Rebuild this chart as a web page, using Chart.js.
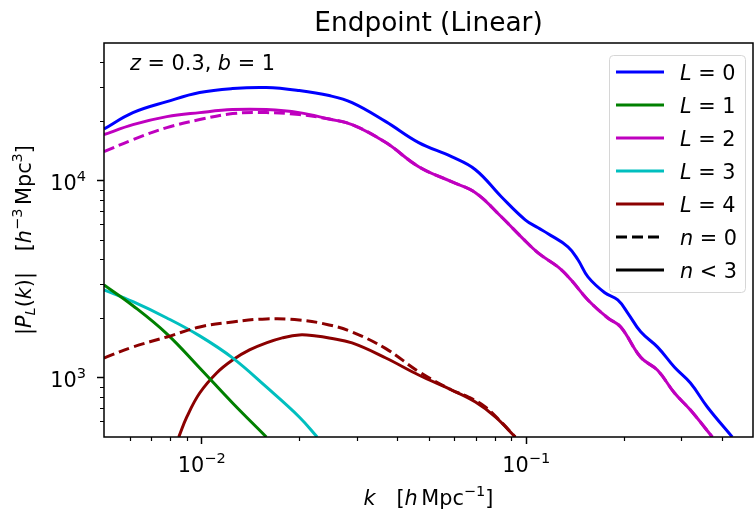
<!DOCTYPE html>
<html>
<head>
<meta charset="utf-8">
<script src="https://cdn.jsdelivr.net/npm/chart.js@4.4.1/dist/chart.umd.min.js"></script>
<style>
  body { margin: 0; background: #fff; }
  canvas { display: block; }
</style>
</head>
<body>
<canvas id="chart" width="755" height="512"></canvas>
<script>
// Values (k in h/Mpc, |P_L| in (Mpc/h)^3)
const kL0 = [0.005, 0.00614, 0.00781, 0.00986, 0.01245, 0.01582, 0.01998, 0.0247, 0.02906, 0.03694,
             0.04664, 0.05888, 0.06977, 0.08382, 0.0993, 0.1088, 0.1168, 0.1345, 0.1444, 0.155,
             0.1747, 0.1915, 0.2056, 0.2254, 0.2541, 0.2865, 0.3208, 0.3616, 0.4315];
const pL0 = [18300, 22160, 25210, 28020, 29360, 29710, 28680, 27050, 24920, 19950,
             15610, 13240, 11370, 8290, 6330, 5770, 5380, 4620, 3970, 3250,
             2700, 2480, 2130, 1710, 1430, 1130, 940, 710, 500];

const kL1 = [0.005, 0.00614, 0.00781, 0.00986, 0.01245, 0.01582];
const pL1 = [2960, 2320, 1670, 1120, 744, 500];

const kL2 = [0.005, 0.00614, 0.00781, 0.00986, 0.01245, 0.01582, 0.01998, 0.0247, 0.02906, 0.03694,
             0.04664, 0.05888, 0.06977, 0.08382, 0.0965, 0.1088, 0.1253, 0.1374, 0.155, 0.1785,
             0.1956, 0.2254, 0.2541, 0.2865, 0.3208, 0.3746];
const pL2 = [17130, 19260, 21150, 22160, 22960, 22960, 22160, 20550, 19260, 15610,
             11780, 9880, 8690, 6560, 5190, 4300, 3650, 3140, 2480, 2010,
             1810, 1270, 1090, 836, 685, 500];
const pL2n0 = [14040, 16160, 18600, 20430, 21910, 22160, 21650, 20550, 19260, 15610,
               11780, 9880, 8690, 6560, 5190, 4300, 3650, 3140, 2480, 2010,
               1810, 1270, 1090, 836, 685, 500];

const kL3 = [0.005, 0.00614, 0.00781, 0.00986, 0.01245, 0.01582, 0.01998, 0.02269];
const pL3 = [2790, 2430, 2010, 1630, 1260, 897, 632, 500];

const kL4 = [0.0085, 0.009, 0.00986, 0.01112, 0.01245, 0.01404, 0.01582, 0.01772, 0.01998, 0.02253,
             0.0247, 0.02906, 0.03694, 0.04664, 0.05888, 0.06977, 0.08034, 0.09253];
const pL4 = [500, 632, 836, 1057, 1230, 1383, 1501, 1592, 1649, 1629,
             1592, 1501, 1259, 1032, 866, 752, 632, 500];

const kL4n0 = [0.005, 0.00614, 0.00781, 0.00986, 0.01245, 0.01582, 0.01998, 0.0247, 0.02906, 0.03694,
               0.04664, 0.05888, 0.06639, 0.07485, 0.08382, 0.09253];
const pL4n0 = [1259, 1432, 1610, 1810, 1919, 1988, 1965, 1853, 1707, 1404,
               1074, 866, 798, 710, 595, 500];

const multipoles = ['0', '1', '2', '3', '4'];
const colors = ['#0000ff', '#008000', '#bf00bf', '#00bfbf', '#8b0000'];

// tick values and their exponents (labels are 10^exp)
const xMajorTicks = [0.01, 0.1];
const xTickExps = ['\u22122', '\u22121'];
const xMinorTicks = [0.006, 0.007, 0.008, 0.009, 0.02, 0.03, 0.04, 0.05, 0.06, 0.07, 0.08, 0.09, 0.2, 0.3, 0.4];
const yMajorTicks = [1000, 10000];
const yTickExps = ['3', '4'];
const yMinorTicks = [600, 700, 800, 900, 2000, 3000, 4000, 5000, 6000, 7000, 8000, 9000, 20000, 30000, 40000];

const FONT = '"DejaVu Sans"';
const FS = 20.8;

function pts(ks, ps) {
    return ks.map((k, i) => ({ x: k, y: ps[i] }));
}

function line(ks, ps, color, dashed) {
    return {
        data: pts(ks, ps),
        borderColor: color,
        borderWidth: 3,
        borderDash: dashed ? [11, 5] : [],
        pointRadius: 0,
        fill: false,
        tension: 0.4,
        order: dashed ? 0 : 1
    };
}

// draw a run of text pieces (italic / super- / subscript) like mathtext
function drawRuns(ctx, runs, x, y, fs, align) {
    const fontOf = r => (r.it ? 'italic ' : '') + (fs * (r.s || 1)) + 'px ' + FONT;
    let w = 0;
    runs.forEach(r => {
        if (r.gap) { w += r.gap * fs; return; }
        ctx.font = fontOf(r);
        w += ctx.measureText(r.t).width;
    });
    let cx = align === 'center' ? x - w / 2 : (align === 'right' ? x - w : x);
    ctx.textAlign = 'left';
    ctx.textBaseline = 'alphabetic';
    runs.forEach(r => {
        if (r.gap) { cx += r.gap * fs; return; }
        ctx.font = fontOf(r);
        ctx.fillText(r.t, cx, y + (r.dy || 0) * fs);
        cx += ctx.measureText(r.t).width;
    });
}

const SUP = { s: 0.7, dy: -0.42 };
const SUB = { s: 0.7, dy: 0.2 };
const sup = t => Object.assign({ t: t }, SUP);

const decorPlugin = {
    id: 'decor',
    afterDatasetsDraw(chart) {
        const ctx = chart.ctx;
        const a = chart.chartArea;
        const xs = chart.scales.x, ys = chart.scales.y;
        ctx.save();
        ctx.fillStyle = '#000';
        ctx.strokeStyle = '#000';

        // frame
        ctx.lineWidth = 1.5;
        ctx.strokeRect(a.left, a.top, a.right - a.left, a.bottom - a.top);

        // minor ticks
        ctx.lineWidth = 1.2;
        ctx.beginPath();
        xMinorTicks.forEach(v => {
            const px = Math.round(xs.getPixelForValue(v)) + 0.5;
            ctx.moveTo(px, a.bottom);
            ctx.lineTo(px, a.bottom + 4);
        });
        yMinorTicks.forEach(v => {
            const py = Math.round(ys.getPixelForValue(v)) + 0.5;
            ctx.moveTo(a.left - 4, py);
            ctx.lineTo(a.left, py);
        });
        ctx.stroke();

        // tick labels 10^n
        xMajorTicks.forEach((v, i) => {
            drawRuns(ctx, [{ t: '10' }, sup(xTickExps[i])], xs.getPixelForValue(v), a.bottom + 35, FS, 'center');
        });
        yMajorTicks.forEach((v, i) => {
            drawRuns(ctx, [{ t: '10' }, sup(yTickExps[i])], a.left - 18, ys.getPixelForValue(v) + 9, FS, 'right');
        });

        // title
        const cx = (a.left + a.right) / 2;
        drawRuns(ctx, [{ t: 'Endpoint (Linear)' }], cx, 31, 26.4, 'center');

        // annotation
        drawRuns(ctx, [{ t: 'z', it: true }, { t: ' = 0.3, ' }, { t: 'b', it: true }, { t: ' = 1' }], 130, 70, FS, 'left');

        // x axis label
        drawRuns(ctx, [
            { t: 'k', it: true }, { gap: 1.0 }, { t: '[' }, { t: 'h', it: true }, { gap: 0.17 },
            { t: 'Mpc' }, sup('\u22121'), { t: ']' }
        ], cx, 505, FS, 'center');

        // y axis label
        ctx.save();
        ctx.translate(31, (a.top + a.bottom) / 2);
        ctx.rotate(-Math.PI / 2);
        drawRuns(ctx, [
            { t: '|' }, { t: 'P', it: true }, Object.assign({ t: 'L', it: true }, SUB), { t: '(' },
            { t: 'k', it: true }, { t: ')|' }, { gap: 1.0 }, { t: '[' }, { t: 'h', it: true },
            sup('\u22123'), { gap: 0.17 }, { t: 'Mpc' }, sup('3'), { t: ']' }
        ], 0, 0, FS, 'center');
        ctx.restore();

        // legend
        const lx = 609, ly = 55, lw = 136, lh = 237;
        ctx.beginPath();
        ctx.roundRect(lx + 0.5, ly + 0.5, lw, lh, 4);
        ctx.fillStyle = 'rgba(255,255,255,0.8)';
        ctx.fill();
        ctx.lineWidth = 1;
        ctx.strokeStyle = '#d6d6d6';
        ctx.stroke();

        const entries = multipoles.map((m, i) => ({
            runs: [{ t: 'L', it: true }, { t: ' = ' + m }], color: colors[i], dash: []
        }));
        entries.push({ runs: [{ t: 'n', it: true }, { t: ' = 0' }], color: '#000', dash: [11, 5] });
        entries.push({ runs: [{ t: 'n', it: true }, { t: ' < 3' }], color: '#000', dash: [] });

        entries.forEach((e, i) => {
            const ry = 72 + i * 33;
            ctx.beginPath();
            ctx.setLineDash(e.dash);
            ctx.lineWidth = 3;
            ctx.strokeStyle = e.color;
            ctx.moveTo(616, ry);
            ctx.lineTo(664, ry);
            ctx.stroke();
            ctx.setLineDash([]);
            ctx.fillStyle = '#000';
            drawRuns(ctx, e.runs, 680, ry + 8, FS, 'left');
        });

        ctx.restore();
    }
};

const datasets = [
    line(kL0, pL0, colors[0], false),
    line(kL1, pL1, colors[1], false),
    line(kL2, pL2, colors[2], false),
    line(kL3, pL3, colors[3], false),
    line(kL4, pL4, colors[4], false),
    line(kL2, pL2n0, colors[2], true),
    line(kL4n0, pL4n0, colors[4], true)
];

const ctx = document.getElementById('chart').getContext('2d');
new Chart(ctx, {
    type: 'line',
    data: { datasets: datasets },
    options: {
        responsive: false,
        animation: false,
        layout: { padding: { top: 43, right: 2, left: 0, bottom: 0 } },
        plugins: {
            legend: { display: false },
            title: { display: false },
            tooltip: { enabled: false }
        },
        scales: {
            x: {
                type: 'logarithmic',
                min: 0.005,
                max: 0.5,
                afterBuildTicks: s => { s.ticks = xMajorTicks.map(v => ({ value: v })); },
                afterFit: s => { s.height = 75; },
                grid: { drawOnChartArea: false, drawTicks: true, tickLength: 7, tickWidth: 1.5, tickColor: '#000' },
                border: { display: false },
                ticks: { display: false }
            },
            y: {
                type: 'logarithmic',
                min: 500,
                max: 50000,
                afterBuildTicks: s => { s.ticks = yMajorTicks.map(v => ({ value: v })); },
                afterFit: s => { s.width = 104; },
                grid: { drawOnChartArea: false, drawTicks: true, tickLength: 7, tickWidth: 1.5, tickColor: '#000' },
                border: { display: false },
                ticks: { display: false }
            }
        }
    },
    plugins: [decorPlugin]
});
</script>
</body>
</html>
